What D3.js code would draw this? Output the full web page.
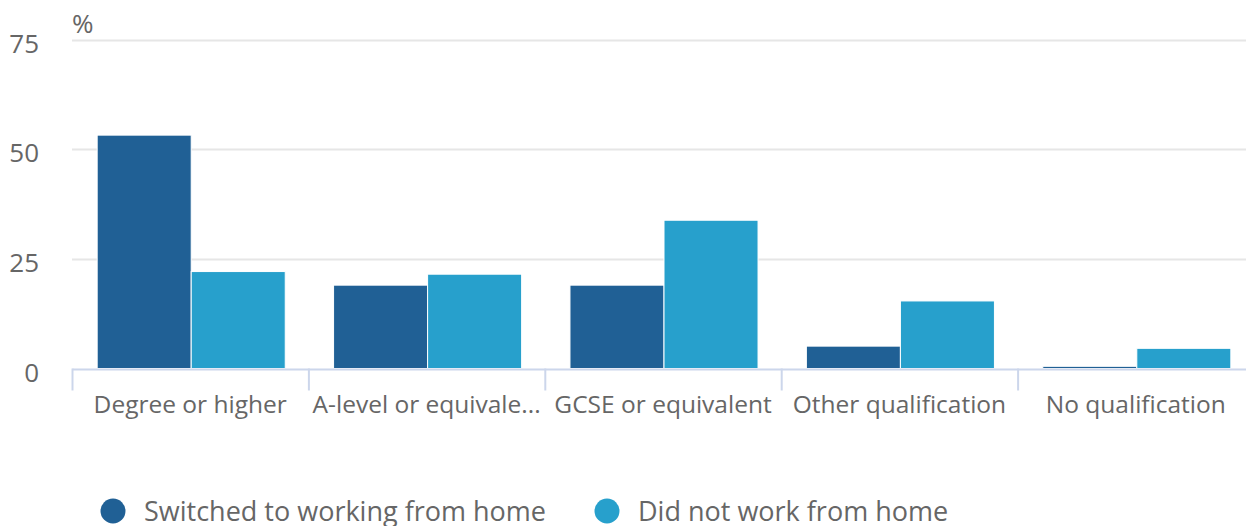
<!DOCTYPE html>
<html><head><meta charset="utf-8">
<script src="https://cdn.jsdelivr.net/npm/d3@7"></script>
<style>body{margin:0;background:#fff;overflow:hidden}text{font-family:"Open Sans",sans-serif}</style>
</head><body><svg id="c" width="1246" height="526"></svg>
<script>
const categories = ["Degree or higher","A-level or equivale...","GCSE or equivalent","Other qualification","No qualification"];
const seriesNames = ["Switched to working from home","Did not work from home"];
const switchedValues = [53.2, 19.0, 19.0, 5.1, 0.5];
const notHomeValues = [22.1, 21.5, 33.8, 15.4, 4.6];
const yTicks = [0, 25, 50, 75];
const colors = ["#206095", "#27a0cc"];

const svg = d3.select("#c");
const x = d3.scaleBand().domain(categories).range([72, 1254]).paddingInner(0).paddingOuter(0);
const y = d3.scaleLinear().domain([0, 75]).range([368.5, 39.5]);
const inner = d3.scaleBand().domain([0,1]).range([1, x.bandwidth()+1]).paddingOuter(0.257).paddingInner(0);

// gridlines
svg.append("g").selectAll("line").data(yTicks.filter(d=>d>0)).join("line")
  .attr("x1", 72).attr("x2", 1254).attr("y1", d=>Math.round(y(d))+0.5).attr("y2", d=>Math.round(y(d))+0.5)
  .attr("stroke", "#e6e6e6").attr("stroke-width", 2);

// y labels
svg.append("g").selectAll("text").data(yTicks).join("text")
  .attr("x", 39).attr("y", d=>y(d)+13).attr("text-anchor","end")
  .attr("font-size", 26).attr("fill", "#666").text(d=>d);
svg.append("text").attr("x", 72).attr("y", 33).attr("font-size", 26).attr("fill","#666").text("%");

// bars
const data = categories.map((c,i)=>({c, v:[switchedValues[i], notHomeValues[i]]}));
const g = svg.append("g");
data.forEach(d=>{
  d.v.forEach((v,j)=>{
    g.append("rect").attr("x", x(d.c)+inner(j)).attr("width", inner.bandwidth())
      .attr("y", y(v)).attr("height", y(0)-y(v)).attr("fill", colors[j])
      .attr("stroke","#fff").attr("stroke-width",1);
  });
});

// x axis
const xAxis = d3.axisBottom(x).tickSize(0).tickFormat(d=>d);
const ax = svg.append("g").attr("transform", `translate(0,${y(0)+0.5})`).call(xAxis);
ax.select(".domain").attr("stroke","#ccd6eb").attr("stroke-width",2);
ax.selectAll("text").attr("font-size", 24.5).attr("fill","#666").attr("dy", 0).attr("y", 44)
  .style("font-family","'Open Sans',sans-serif");
const bounds = categories.map(c=>x(c)).concat([x.range()[1]]);
svg.append("g").selectAll("line").data(bounds).join("line")
  .attr("x1", d=>d+0.5).attr("x2", d=>d+0.5).attr("y1", y(0)).attr("y2", y(0)+22)
  .attr("stroke", "#ccd6eb").attr("stroke-width", 2);

// legend
const legX = [113, 607];
const lg = svg.append("g").selectAll("g").data(seriesNames).join("g")
  .attr("transform", (d,i)=>`translate(${legX[i]},511)`);
lg.append("circle").attr("r", 12.5).attr("fill", (d,i)=>colors[i]);
lg.append("text").attr("x", 31).attr("y", 10).attr("font-size", 27).attr("fill","#666").text(d=>d);
</script></body></html>
